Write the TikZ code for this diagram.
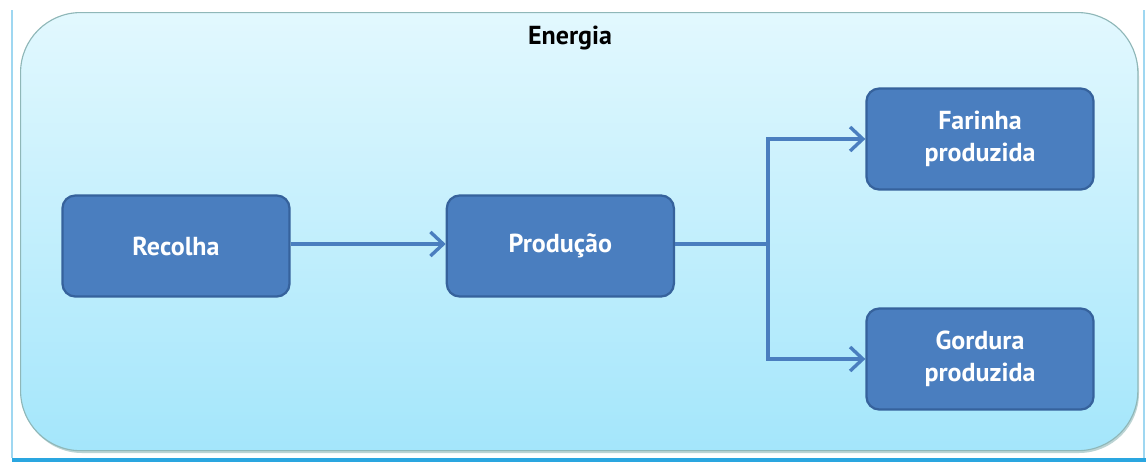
\documentclass[tikz,border=0pt]{standalone}
\usepackage{fontspec}
\setmainfont{PT Sans}
\usetikzlibrary{positioning}
\usetikzlibrary{arrows.meta}
\definecolor{pBox}{HTML}{4A7EBF}
\definecolor{pBoxLine}{HTML}{36629C}
\definecolor{pTop}{HTML}{E2F8FE}
\definecolor{pBottom}{HTML}{A4E6FB}
\definecolor{pFrame}{HTML}{8FB7B8}
\definecolor{pEdge}{HTML}{2AA6E0}

\tikzset{
  stage/.style={draw=pBoxLine, line width=1.6pt, fill=pBox, rounded corners=0.32cm,
    minimum width=5.675cm, minimum height=2.525cm, text=white,
    font=\bfseries\fontsize{18.5}{23}\selectfont, align=center},
  flow/.style={draw=pBox, line width=2.4pt, -{Straight Barb[length=0.32cm, width=0.6cm, line width=2.4pt]}},
}

\begin{document}
\begin{tikzpicture}[x=0.025cm, y=-0.025cm]
  \useasboundingbox[fill=white] (0,0) rectangle (1146,463);

  % outer frame of the picture
  \draw[pEdge!45, line width=1.2pt] (12,10) -- (12,458);
  \draw[pEdge!45, line width=1pt] (1144,10) -- (1144,458);
  \draw[pEdge, line width=2.5pt] (12,460) -- (1146,460);

  % energy container
  \fill[pFrame!60, rounded corners=1.5cm] (22,16) rectangle (1139,453);
  \node[draw=pFrame, line width=0.8pt, rounded corners=1.5cm, top color=pTop, bottom color=pBottom,
        minimum width=27.925cm, minimum height=10.95cm, anchor=north west] (energy) at (20,12) {};
  \node[font=\bfseries\fontsize{18.5}{23}\selectfont, text=black] (title) at (570,38) {Energia};

  \node[stage] (recolha) at (176,246) {Recolha};
  \node[stage, right=3.875cm of recolha] (producao) {Produção};
  \node[stage] (farinha) at (980,139) {Farinha\\produzida};
  \node[stage] (gordura) at (980,359) {Gordura\\produzida};

  \coordinate (split) at (768,244);

  \draw[flow] (recolha.east |- split) -- (producao.west |- split);
  \draw[draw=pBox, line width=2.4pt] (producao.east |- split) -- (split);
  \draw[flow] (split) |- (farinha.west);
  \draw[flow] (split) |- (gordura.west);
\end{tikzpicture}
\end{document}
